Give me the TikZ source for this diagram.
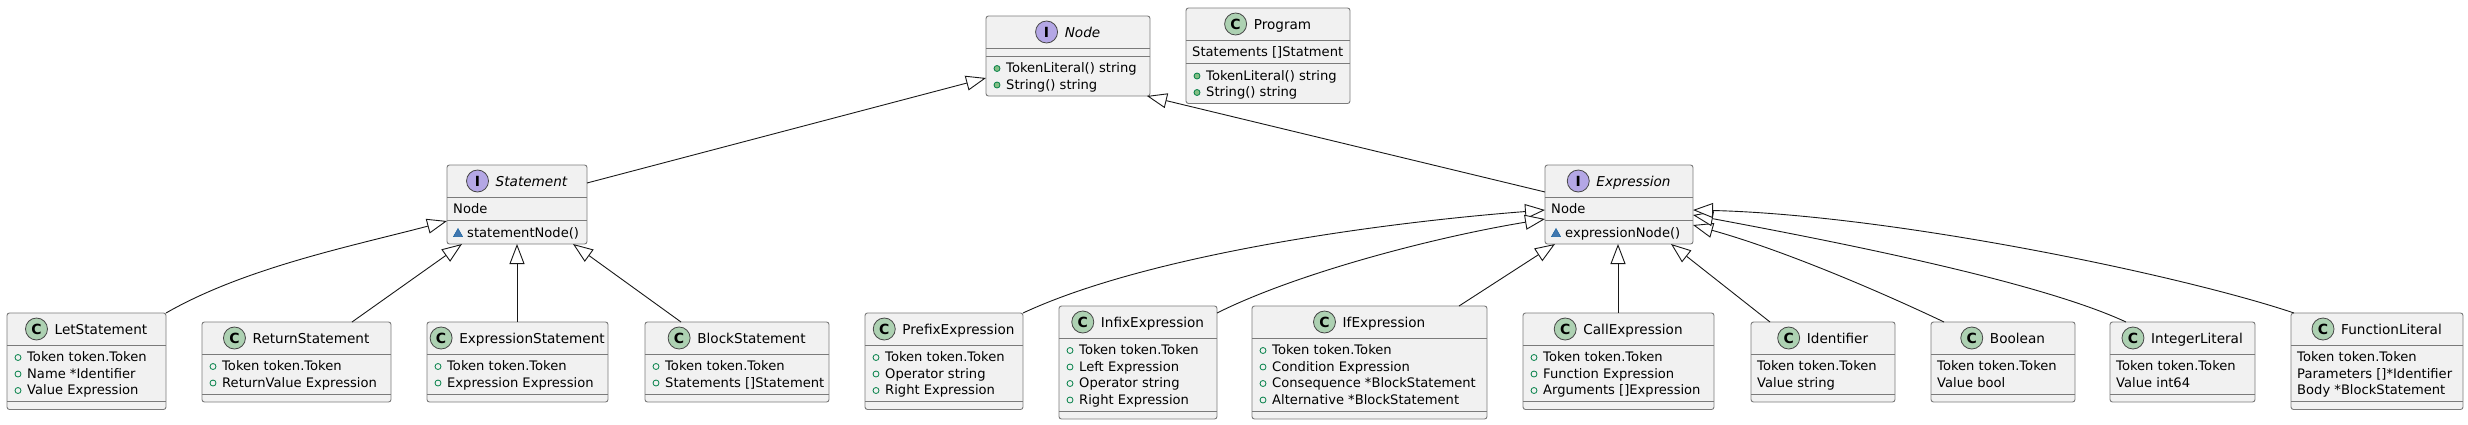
\documentclass[tikz,border=0pt]{standalone}
\usepackage{fontspec}
\setmainfont{DejaVu Sans}
\usetikzlibrary{arrows.meta,calc}
\definecolor{boxfill}{HTML}{F1F1F1}
\definecolor{bordercol}{HTML}{7A7A7A}
\definecolor{linecol}{HTML}{181818}
\definecolor{cgreen}{HTML}{ADD1B2}
\definecolor{ipurple}{HTML}{B4A7E5}
\definecolor{visgreen}{HTML}{038048}
\definecolor{mgreen}{HTML}{84BE84}
\definecolor{visblue}{HTML}{1963A0}
\definecolor{tblue}{HTML}{4177AF}
\newcommand\fs{\fontsize{13.1}{16}\selectfont}
\newcommand\fst{\fontsize{13.6}{16}\selectfont}
\tikzset{
  clsbox/.style={draw=bordercol, fill=boxfill, rounded corners=2.5pt, line width=0.9pt, inner sep=0pt, outer sep=0pt},
  sepline/.style={draw=bordercol, line width=0.9pt},
  ttl/.style={anchor=base, inner sep=0pt, font=\fst},
  rowtxt/.style={anchor=base west, inner sep=0pt, font=\fs},
  Cicon/.style={circle, draw=linecol!80, fill=cgreen, line width=0.8pt, minimum size=22pt, inner sep=0pt, font=\bfseries\fontsize{14}{14}\selectfont},
  Iicon/.style={circle, draw=linecol!80, fill=ipurple, line width=0.8pt, minimum size=22pt, inner sep=0pt, font=\bfseries\fontsize{14}{14}\selectfont},
  inh/.style={draw=linecol, line width=0.9pt, -{Triangle[length=20pt,width=15pt,fill=white]}},
}
% #1 name, #2 x, #3 y, #4 w, #5 h, #6 C/I, #7 title
\newcommand\cls[7]{%
  \node[clsbox, minimum width=#4pt, minimum height=#5pt, anchor=north west] (#1) at (#2,#3) {};
  \node[ttl] (#1t) at ($(#1.north)+(14.5,21)$) {#7};
  \node[#6icon] at ($(#1t.base west)+(-18,-5)$) {#6};
}
\newcommand\sepl[2]{\draw[sepline] ($(#1.north west)+(0,#2)$) -- ($(#1.north east)+(0,#2)$);}
\newcommand\nrow[3]{\node[rowtxt] at ($(#1.north west)+(6,#2+5)$) {#3};}
\newcommand\frow[3]{\draw[visgreen, line width=0.8pt] ($(#1.north west)+(11,#2+1)$) circle[radius=3pt];
  \node[rowtxt] at ($(#1.north west)+(20,#2+5)$) {#3};}
\newcommand\mrow[3]{\draw[visgreen, fill=mgreen, line width=0.8pt] ($(#1.north west)+(11,#2+1)$) circle[radius=3pt];
  \node[rowtxt] at ($(#1.north west)+(20,#2+5)$) {#3};}
\newcommand\trow[3]{\filldraw[draw=visblue, fill=tblue, line width=0.5pt] ($(#1.north west)+(11,#2+1)$) ++(-4.5,3.5) -- ++(9,0) -- ++(-4.5,-8) -- cycle;
  \node[rowtxt] at ($(#1.north west)+(20,#2+5)$) {#3};}
\begin{document}
\begin{tikzpicture}[x=1pt,y=-1pt]
\useasboundingbox (0,0) rectangle (2468,424);
% ---- top
\cls{nodeI}{986}{16}{164}{80}{I}{\itshape Node}
\sepl{nodeI}{32}\sepl{nodeI}{40}
\mrow{nodeI}{51.5}{TokenLiteral() string}
\mrow{nodeI}{68}{String() string}

\cls{prog}{1186}{8}{164}{95.5}{C}{Program}
\sepl{prog}{32}\sepl{prog}{55.5}
\nrow{prog}{43.5}{Statements []Statment}
\mrow{prog}{67}{TokenLiteral() string}
\mrow{prog}{83.5}{String() string}

\cls{stmt}{447}{165}{140}{79}{I}{\itshape Statement}
\sepl{stmt}{32}\sepl{stmt}{55.5}
\nrow{stmt}{43.5}{Node}
\trow{stmt}{67}{statementNode()}

\cls{expr}{1545}{165}{148}{79}{I}{\itshape Expression}
\sepl{expr}{32}\sepl{expr}{55.5}
\nrow{expr}{43.5}{Node}
\trow{expr}{67}{expressionNode()}

% ---- bottom row
\cls{let}{7}{313}{159}{96.5}{C}{LetStatement}
\sepl{let}{32}\sepl{let}{88.5}
\frow{let}{43.5}{Token token.Token}
\frow{let}{60}{Name *Identifier}
\frow{let}{76.5}{Value Expression}

\cls{ret}{202}{322}{189}{80}{C}{ReturnStatement}
\sepl{ret}{32}\sepl{ret}{72}
\frow{ret}{43.5}{Token token.Token}
\frow{ret}{60}{ReturnValue Expression}

\cls{exst}{427}{322}{181}{80}{C}{ExpressionStatement}
\sepl{exst}{32}\sepl{exst}{72}
\frow{exst}{43.5}{Token token.Token}
\frow{exst}{60}{Expression Expression}

\cls{blk}{645}{322}{184}{80}{C}{BlockStatement}
\sepl{blk}{32}\sepl{blk}{72}
\frow{blk}{43.5}{Token token.Token}
\frow{blk}{60}{Statements []Statement}

\cls{pre}{865}{313}{158}{96.5}{C}{PrefixExpression}
\sepl{pre}{32}\sepl{pre}{88.5}
\frow{pre}{43.5}{Token token.Token}
\frow{pre}{60}{Operator string}
\frow{pre}{76.5}{Right Expression}

\cls{inf}{1059}{306}{158}{113}{C}{InfixExpression}
\sepl{inf}{32}\sepl{inf}{105}
\frow{inf}{43.5}{Token token.Token}
\frow{inf}{60}{Left Expression}
\frow{inf}{76.5}{Operator string}
\frow{inf}{93}{Right Expression}

\cls{ifx}{1252}{306}{235}{113}{C}{IfExpression}
\sepl{ifx}{32}\sepl{ifx}{105}
\frow{ifx}{43.5}{Token token.Token}
\frow{ifx}{60}{Condition Expression}
\frow{ifx}{76.5}{Consequence *BlockStatement}
\frow{ifx}{93}{Alternative *BlockStatement}

\cls{call}{1523}{313}{191}{96.5}{C}{CallExpression}
\sepl{call}{32}\sepl{call}{88.5}
\frow{call}{43.5}{Token token.Token}
\frow{call}{60}{Function Expression}
\frow{call}{76.5}{Arguments []Expression}

\cls{ident}{1751}{322}{144}{80}{C}{Identifier}
\sepl{ident}{32}\sepl{ident}{72}
\nrow{ident}{43.5}{Token token.Token}
\nrow{ident}{60}{Value string}

\cls{bool}{1931}{322}{144}{80}{C}{Boolean}
\sepl{bool}{32}\sepl{bool}{72}
\nrow{bool}{43.5}{Token token.Token}
\nrow{bool}{60}{Value bool}

\cls{intl}{2110}{322}{145}{80}{C}{IntegerLiteral}
\sepl{intl}{32}\sepl{intl}{72}
\nrow{intl}{43.5}{Token token.Token}
\nrow{intl}{60}{Value int64}

\cls{func}{2291}{313}{172}{96.5}{C}{FunctionLiteral}
\sepl{func}{32}\sepl{func}{88.5}
\nrow{func}{43.5}{Token token.Token}
\nrow{func}{60}{Parameters []*Identifier}
\nrow{func}{76.5}{Body *BlockStatement}

% ---- connectors
\draw[inh] ($(stmt.north east)+(0,18)$) -- ($(nodeI.north west)+(0,62)$);
\draw[inh] ($(expr.north west)+(0,27)$) -- ($(nodeI.south east)+(-3,0)$);

\draw[inh] (let.north east) .. controls ($(let.north east)+(80,-46)$) and ($(stmt.north west)+(-90,80)$) .. ($(stmt.north west)+(0,56)$);
\draw[inh] ($(ret.north west)+(150,0)$) -- ($(stmt.south west)+(15,0)$);
\draw[inh] ($(exst.north west)+(90,0)$) -- ($(stmt.south west)+(70,0)$);
\draw[inh] ($(blk.north west)+(36,0)$) -- ($(stmt.south east)+(-14,0)$);

\draw[inh] (pre.north east) .. controls ($(pre.north east)+(120,-56)$) and ($(expr.north west)+(-180,59)$) .. ($(expr.north west)+(0,45)$);
\draw[inh] ($(inf.north east)+(0,7)$) .. controls ($(inf.north east)+(80,-33)$) and ($(expr.north west)+(-110,72)$) .. ($(expr.north west)+(0,54)$);
\draw[inh] ($(ifx.north west)+(207,0)$) -- ($(expr.south west)+(10,0)$);
\draw[inh] ($(call.north west)+(95,0)$) -- ($(expr.south west)+(73,0)$);
\draw[inh] ($(ident.north west)+(19,0)$) -- ($(expr.south east)+(-22,0)$);
\draw[inh] ($(bool.north west)+(13,0)$) .. controls ($(bool.north west)+(-50,-30)$) and ($(expr.north east)+(90,85)$) .. ($(expr.north east)+(0,60)$);
\draw[inh] ($(intl.north west)+(16,0)$) .. controls ($(intl.north west)+(-70,-40)$) and ($(expr.north east)+(150,78)$) .. ($(expr.north east)+(0,50)$);
\draw[inh] ($(func.north west)+(3,0)$) .. controls ($(func.north west)+(-110,-38)$) and ($(expr.north east)+(200,50)$) .. ($(expr.north east)+(0,45)$);
\end{tikzpicture}
\end{document}
